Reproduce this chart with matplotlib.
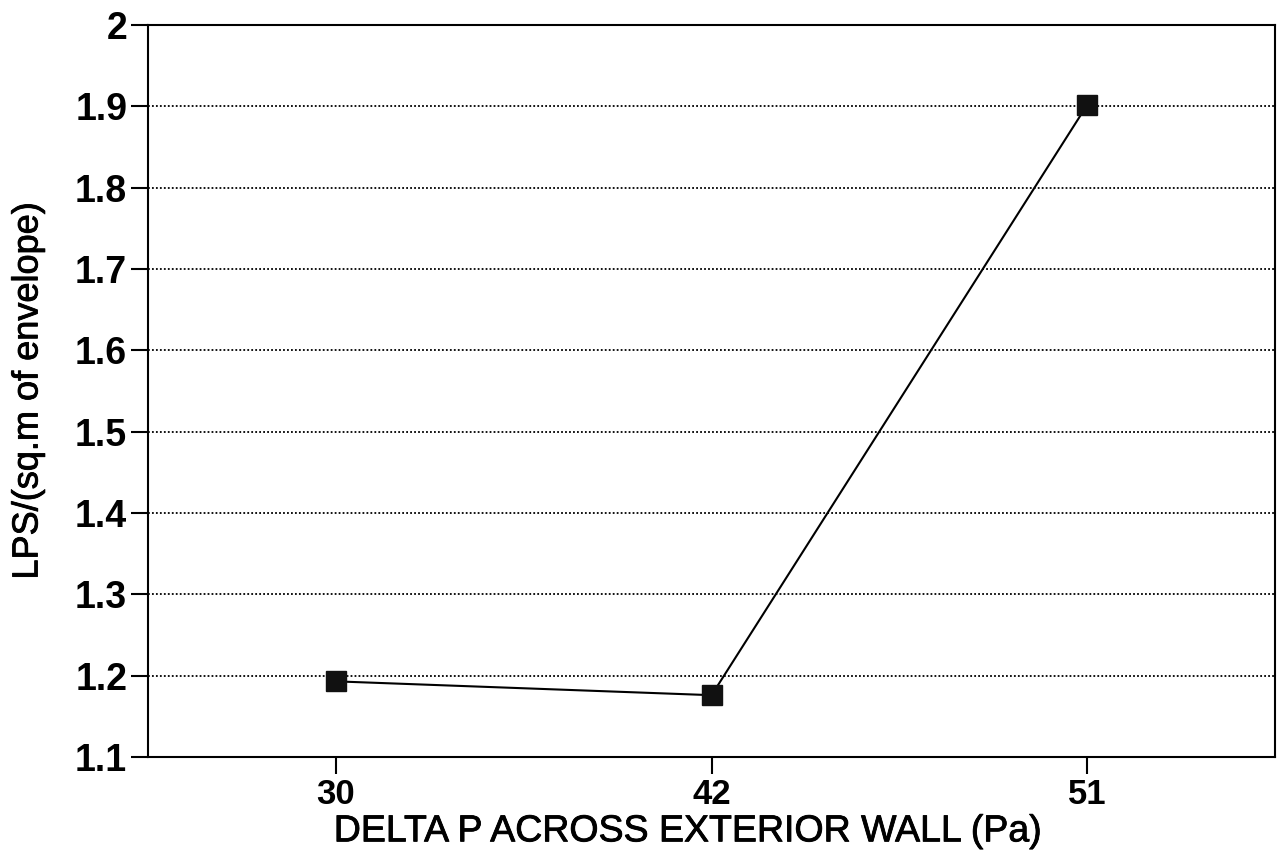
import matplotlib
matplotlib.use("Agg")
import matplotlib.pyplot as plt
import matplotlib.patheffects as pe

plt.rcParams['font.family'] = ['Liberation Sans', 'DejaVu Sans']

# data
pressure = ["30", "42", "51"]
lps = [1.193, 1.176, 1.902]
yticks = [1.1, 1.2, 1.3, 1.4, 1.5, 1.6, 1.7, 1.8, 1.9, 2.0]
ytick_labels = ["1.1", "1.2", "1.3", "1.4", "1.5", "1.6", "1.7", "1.8", "1.9", "2"]

fig = plt.figure(figsize=(12.78, 8.57), dpi=100)
ax = fig.add_axes([0.1158, 0.1167, 0.882, 0.8541])

xpos = list(range(len(pressure)))
ax.plot(xpos, lps, color="black", linewidth=1.5, marker="s", markersize=14,
        markerfacecolor="#111111", markeredgecolor="#111111", zorder=3)

ax.set_xlim(-0.5, 2.5)
ax.set_ylim(1.1, 2.0)
ax.set_xticks(xpos)
ax.set_xticklabels(pressure, fontsize=25, fontweight="bold")
ax.set_yticks(yticks)
ax.set_yticklabels(ytick_labels, fontsize=27, fontweight="bold")
for y in yticks[1:-1]:
    ax.axhline(y, color="black", linestyle=(0, (1, 1.2)), linewidth=1.3, zorder=1)

ax.tick_params(axis="both", direction="out", length=12, width=1.5, pad=3)
for s in ax.spines.values():
    s.set_linewidth(1.5)

# medium-weight look for the axis titles
thick = [pe.withStroke(linewidth=0.6, foreground="black")]
xl = ax.set_xlabel("DELTA P ACROSS EXTERIOR WALL (Pa)", fontsize=27)
yl = ax.set_ylabel("LPS/(sq.m of envelope)", fontsize=26)
xl.set_path_effects(thick)
yl.set_path_effects(thick)
ax.xaxis.set_label_coords(0.479, -0.077)
ax.yaxis.set_label_coords(-0.091, 0.5)

fig.savefig("out.png", dpi=100)
